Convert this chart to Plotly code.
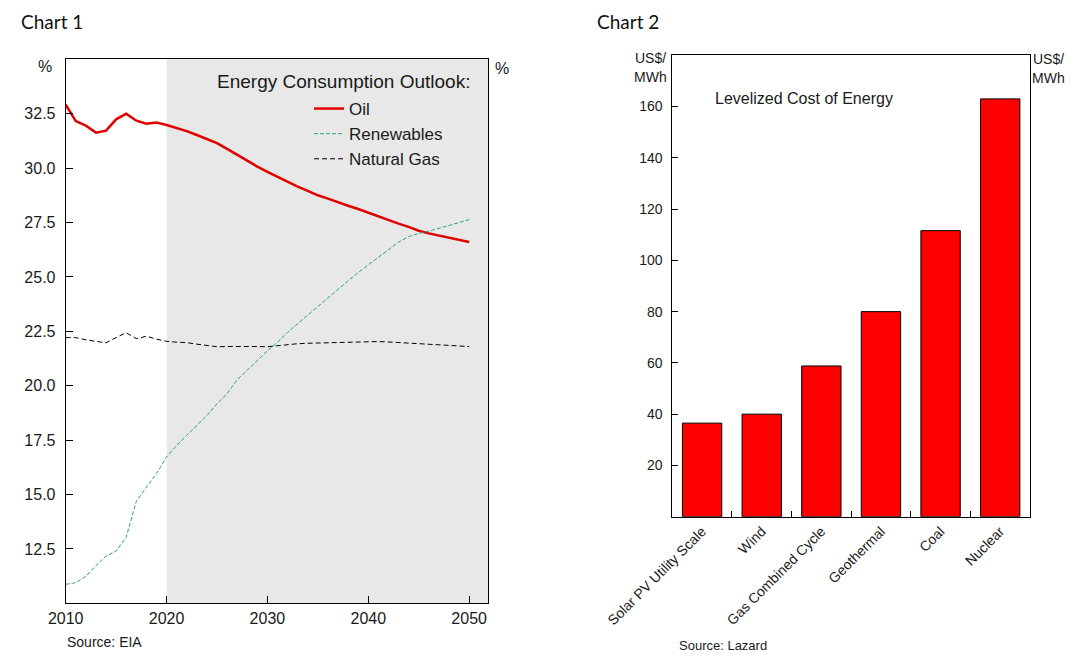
import plotly.graph_objects as go

# ---------------- Data ----------------
years = list(range(2010, 2051))
oil = [32.91, 32.16, 31.95, 31.63, 31.72, 32.24, 32.50, 32.18, 32.04, 32.09,
       31.98, 31.85, 31.70, 31.52, 31.33, 31.15, 30.88, 30.60, 30.33, 30.07,
       29.83, 29.60, 29.37, 29.15, 28.95, 28.75, 28.60, 28.42, 28.27, 28.12,
       27.95, 27.78, 27.60, 27.45, 27.30, 27.12, 27.00, 26.90, 26.80, 26.70,
       26.60]
renewables = [10.87, 10.95, 11.24, 11.74, 12.17, 12.40, 13.04, 14.68, 15.34, 15.96,
              16.72, 17.26, 17.72, 18.18, 18.63, 19.17, 19.63, 20.27, 20.73, 21.18,
              21.60, 22.00, 22.45, 22.85, 23.25, 23.66, 24.06, 24.45, 24.82, 25.20,
              25.55, 25.90, 26.25, 26.60, 26.85, 27.00, 27.10, 27.22, 27.36, 27.50,
              27.63]
natural_gas = [22.21, 22.21, 22.11, 22.03, 21.97, 22.21, 22.44, 22.16, 22.27, 22.14,
               22.04, 22.00, 21.98, 21.91, 21.84, 21.79, 21.80, 21.81, 21.81, 21.80,
               21.79, 21.84, 21.90, 21.93, 21.95, 21.96, 21.97, 21.98, 22.00, 22.03,
               22.04, 22.03, 22.01, 21.98, 21.96, 21.94, 21.92, 21.88, 21.84, 21.80,
               21.80]
forecast_start = 2020
x1_range = [2010, 2051.9]
y1_range = [10, 35]
y1_ticks = [12.5, 15.0, 17.5, 20.0, 22.5, 25.0, 27.5, 30.0, 32.5]
x1_ticks = [2010, 2020, 2030, 2040, 2050]

categories = ["Solar PV Utility Scale", "Wind", "Gas Combined Cycle",
              "Geothermal", "Coal", "Nuclear"]
lcoe = [36.5, 40.0, 58.8, 80.0, 111.6, 163.0]
y2_range = [0, 180]
y2_ticks = [20, 40, 60, 80, 100, 120, 140, 160]

# ---------------- Layout helpers ----------------
OFF = 8                      # page body margin in the browser
W, H = 1088 - OFF, 660 - OFF
def px(x):
    return (x - OFF) / W
def py(y):
    return 1 - (y - OFF) / H

ARIAL = "Liberation Sans"
TITLEF = "Lato"
TXT = "#1a1a1a"

fig = go.Figure()

fig.add_trace(go.Scatter(x=years, y=oil, name="Oil", mode="lines",
                         line=dict(color="#e00000", width=2.5),
                         xaxis="x", yaxis="y"))
fig.add_trace(go.Scatter(x=years, y=renewables, name="Renewables", mode="lines",
                         line=dict(color="#2fa56a", width=1, dash="4px,2px"),
                         xaxis="x", yaxis="y"))
fig.add_trace(go.Scatter(x=years, y=natural_gas, name="Natural Gas", mode="lines",
                         line=dict(color="#000000", width=1, dash="5px,3px"),
                         xaxis="x", yaxis="y"))

fig.add_trace(go.Bar(x=categories, y=lcoe, name="LCOE",
                     marker=dict(color="#ff0000", line=dict(color="#000000", width=1)),
                     xaxis="x2", yaxis="y3", showlegend=False, width=0.66))

axis_common = dict(showgrid=False, zeroline=False, showline=True, linecolor="black",
                   linewidth=1, ticks="inside", tickcolor="black", tickwidth=1,
                   automargin=False)

fig.update_layout(
    template="none",
    width=W, height=H,
    margin=dict(l=0, r=0, t=0, b=0, pad=0),
    paper_bgcolor="white", plot_bgcolor="white",
    font=dict(family=ARIAL, color=TXT),
    showlegend=True,
    legend=dict(x=px(309), y=py(91), xanchor="left", yanchor="top",
                bgcolor="rgba(0,0,0,0)", font=dict(family=ARIAL, size=17, color=TXT),
                traceorder="normal"),
    xaxis=dict(domain=[px(65.7), px(488.3)], anchor="y", range=x1_range,
               tickvals=x1_ticks, ticklen=7, mirror=True,
               tickfont=dict(family=ARIAL, size=16, color=TXT), **axis_common),
    yaxis=dict(domain=[py(603.3), py(59.3)], anchor="x", range=y1_range,
               tickvals=y1_ticks, ticktext=[f"{v:.1f}" for v in y1_ticks],
               ticklen=7, mirror=True, ticklabelstandoff=6,
               tickfont=dict(family=ARIAL, size=16, color=TXT), **axis_common),
    yaxis2=dict(overlaying="y", anchor="x", side="right", range=y1_range,
                tickvals=y1_ticks, ticktext=[f"{v:.1f}" for v in y1_ticks],
                ticklen=7, ticklabelstandoff=12,
                tickfont=dict(family=ARIAL, size=16, color=TXT), **axis_common),
    xaxis2=dict(domain=[px(672.3), px(1030)], anchor="y3", type="category",
                tickson="boundaries", ticklen=6, mirror=True, tickangle=-45,
                tickfont=dict(family=ARIAL, size=14, color=TXT), **axis_common),
    yaxis3=dict(domain=[py(516.7), py(55.3)], anchor="x2", range=y2_range,
                tickvals=y2_ticks, ticklen=6, mirror=True, ticklabelstandoff=6,
                tickfont=dict(family=ARIAL, size=14, color=TXT), **axis_common),
    yaxis4=dict(overlaying="y3", anchor="x2", side="right", range=y2_range,
                tickvals=y2_ticks, ticklen=6, ticklabelstandoff=7,
                tickfont=dict(family=ARIAL, size=14, color=TXT), **axis_common),
)

# Forecast shading
fig.add_shape(type="rect", xref="x", yref="y domain", x0=forecast_start, x1=x1_range[1],
              y0=0, y1=1, fillcolor="#e8e8e8", line=dict(width=0), layer="below")

def note(text, x, y, size, xanchor="left", family=ARIAL, color=TXT, yanchor="middle"):
    fig.add_annotation(text=text, x=px(x), y=py(y), xref="paper", yref="paper",
                       xanchor=xanchor, yanchor=yanchor, showarrow=False,
                       font=dict(family=family, size=size, color=color))

note("Chart 1", 19, OFF, 19, family=TITLEF, color="#111", yanchor="top")
note("Chart 2", 595, OFF, 19, family=TITLEF, color="#111", yanchor="top")
note("%", 45, 66, 16, xanchor="center")
note("%", 502, 68, 16, xanchor="center")
note("Energy Consumption Outlook:", 472, 81, 19, xanchor="right")
note("Source: EIA", 65, 642, 14)
note("US$/", 650, 58, 14, xanchor="center")
note("MWh", 650, 77, 14, xanchor="center")
note("US$/", 1048, 59, 14, xanchor="center")
note("MWh", 1048, 78, 14, xanchor="center")
note("Levelized Cost of Energy", 713, 99, 16)
note("Source: Lazard", 677, 645, 13)

fig.write_html("out.html")
